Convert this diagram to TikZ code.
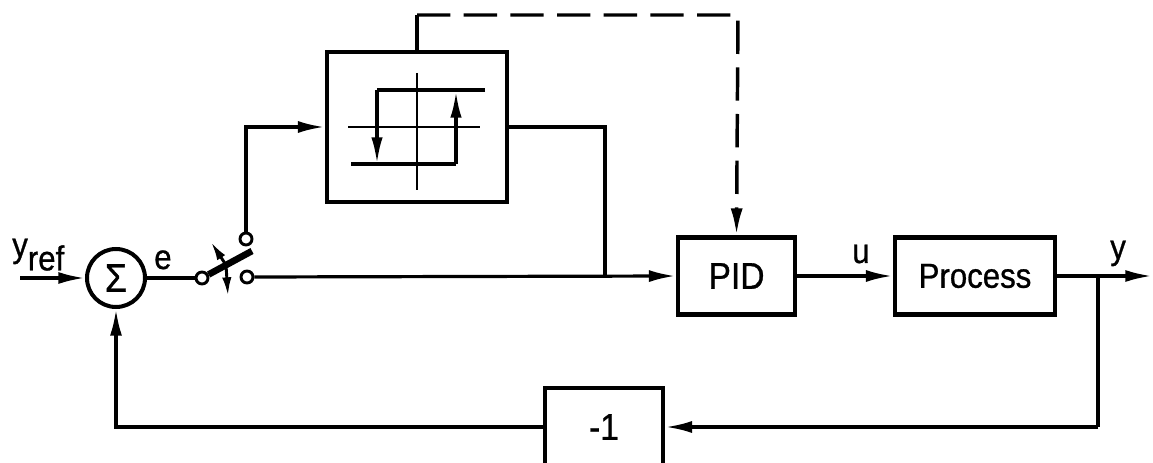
\documentclass[tikz,border=0pt]{standalone}
\usepackage{fontspec}
\setmainfont[FakeStretch=0.9,FakeBold=0.8]{Liberation Sans}
\usetikzlibrary{arrows.meta}
\begin{document}
\begin{tikzpicture}[x=0.75pt,y=-0.75pt,
  conn/.style={line width=2.4pt},
  arr/.style={conn,-{Latex[length=20pt,width=9pt]}},
  blk/.style={draw,line width=3.6pt,rectangle,inner sep=0pt},
  term/.style={draw,circle,line width=2.2pt,minimum size=9pt,inner sep=0pt,fill=white},
  inner/.style={line width=1.8pt},
  innerarr/.style={line width=2.5pt,-{Latex[length=20pt,width=8.5pt]}},
  lbl/.style={font=\fontsize{26}{30}\selectfont,inner sep=0pt,anchor=base west},
  dsh/.style={line width=2.6pt,dash pattern=on 25pt off 10pt}]
\useasboundingbox (0,0) rectangle (1153,463);
\clip (0,0) rectangle (1153,463);
% blocks
\node[draw,circle,line width=3pt,minimum size=43.5pt,inner sep=0pt,font=\fontsize{30}{32}\selectfont] (sum) at (116,278) {Σ};
\node[blk,minimum width=135pt,minimum height=112.5pt] (hyst) at (417,127) {};
\node[blk,minimum width=87.75pt,minimum height=57.75pt,font=\fontsize{28}{32}\selectfont] (pid) at (736.5,276) {PID};
\node[blk,minimum width=120pt,minimum height=57.75pt,font=\fontsize{26}{30}\selectfont] (proc) at (975,276) {Process};
\node[blk,minimum width=88.5pt,minimum height=58.5pt,font=\fontsize{28}{32}\selectfont] (neg) at (604,427) {-1};
% switch
\node[term] (swL) at (202,278) {};
\node[term] (swU) at (246,239) {};
\node[term] (swR) at (247,277) {};
\coordinate (bladeEnd) at (252,251);
\coordinate (swc) at (226,265);
\coordinate (swa1) at (211,242);
\coordinate (swa2) at (228,296);
% coordinates
\coordinate (in) at (20,278);
\coordinate (j1) at (605,276);
\coordinate (j2) at (1098,276);
\coordinate (out) at (1152,276);
\coordinate (fb) at (1098,427);
\coordinate (t1) at (417,15);
\coordinate (t2) at (738,15);
% labels
\node[lbl] (yref) at (12,257) {y\raisebox{-10pt}{ref}};
\node[lbl] (e) at (154,269) {e};
\node[lbl] (u) at (852,263) {u};
\node[lbl] (y) at (1110,259) {y};
% connectors
\draw[arr] (in) -- (sum.west);
\draw[conn] (sum.east) -- (swL.west);
\draw[line width=5pt] (swL.28) -- (bladeEnd);
\draw[line width=2.2pt,-{Latex[length=14pt,width=7pt]}] (swc) -- (swa1);
\draw[line width=2.2pt,-{Latex[length=14pt,width=7pt]}] (swc) -- (swa2);
\draw[arr] (swU.north) |- (hyst.west);
\draw[arr] (swR.east) -- (pid.west);
\draw[conn] (hyst.east) -| (j1);
\draw[line width=2.6pt] (hyst.north) -- (t1);
\draw[dsh,-{Latex[length=20pt,width=9pt]}] (t1) -- (t2) -- (pid.north);
\draw[arr] (pid.east) -- (proc.west);
\draw[arr] (proc.east) -- (out);
\draw[conn] (j2) -- (fb);
\draw[arr] (fb) -- (neg.east);
\draw[arr] (neg.west) -| (sum.south);
% hysteresis symbol
\draw[inner] (417,73) -- (417,190);
\draw[inner] (348,127) -- (480,127);
\draw[line width=2.5pt] (485,90) -- (377,90);
\draw[innerarr] (377,90) -- (377,164);
\draw[line width=2.5pt] (351,164) -- (456,164);
\draw[innerarr] (456,164) -- (456,91);
\end{tikzpicture}
\end{document}
